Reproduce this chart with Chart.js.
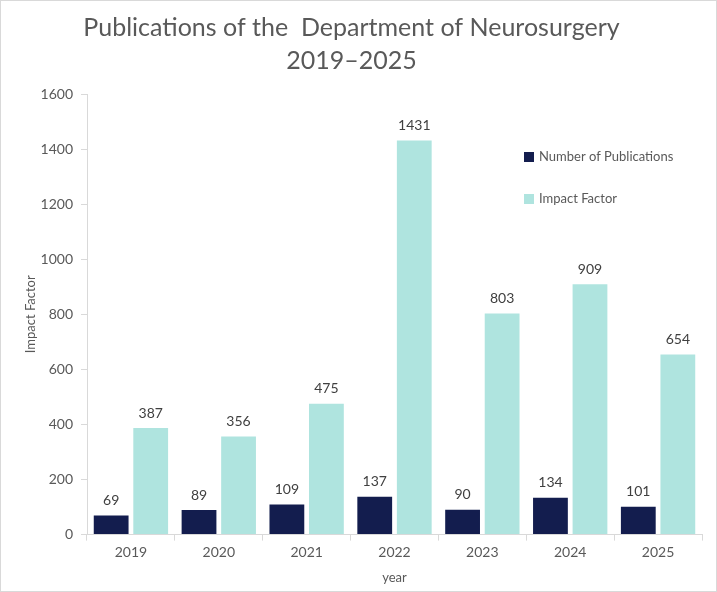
<!DOCTYPE html>
<html>
<head>
<meta charset="utf-8">
<script src="https://cdn.jsdelivr.net/npm/chart.js@4.4.1/dist/chart.umd.min.js"></script>
<style>
  html, body { margin: 0; padding: 0; background: #fff; }
  #wrap { position: relative; width: 717px; height: 592px; box-sizing: border-box; border: 1px solid #d9d9d9; }
</style>
</head>
<body>
<div id="wrap"><canvas id="pubChart"></canvas></div>
<script>
const years = ['2019', '2020', '2021', '2022', '2023', '2024', '2025'];
const publications = [69, 89, 109, 137, 90, 134, 101];
const impactFactor = [387, 356, 475, 1431, 803, 909, 654];
const yTicks = [0, 200, 400, 600, 800, 1000, 1200, 1400, 1600];

const textGrey = '#595959';
const axisGrey = '#d9d9d9';
const fontFamily = 'Lato, "Open Sans", sans-serif';

// values above every bar
const barLabels = {
  id: 'barLabels',
  afterDatasetsDraw(chart) {
    const ctx = chart.ctx;
    ctx.save();
    ctx.font = '14px ' + fontFamily;
    ctx.fillStyle = '#404040';
    ctx.textAlign = 'center';
    ctx.textBaseline = 'middle';
    chart.data.datasets.forEach((ds, i) => {
      chart.getDatasetMeta(i).data.forEach((bar, j) => {
        ctx.fillText(ds.data[j], bar.x, bar.y - 15);
      });
    });
    ctx.restore();
  }
};

// legend drawn inside the plot, on the right
const innerLegend = {
  id: 'innerLegend',
  afterDraw(chart) {
    const ctx = chart.ctx;
    ctx.save();
    ctx.font = '13px ' + fontFamily;
    ctx.textBaseline = 'middle';
    chart.data.datasets.forEach((ds, i) => {
      const y = 156 + i * 42;
      ctx.fillStyle = ds.backgroundColor;
      ctx.fillRect(523, y - 5, 10, 10);
      ctx.fillStyle = textGrey;
      ctx.fillText(ds.label, 538, y);
    });
    ctx.restore();
  }
};

const ctx = document.getElementById('pubChart').getContext('2d');
new Chart(ctx, {
  type: 'bar',
  data: {
    labels: years,
    datasets: [{
      label: 'Number of Publications',
      data: publications,
      backgroundColor: '#131d4e',
      categoryPercentage: 0.9,
      barPercentage: 0.88
    }, {
      label: 'Impact Factor',
      data: impactFactor,
      backgroundColor: '#afe4df',
      categoryPercentage: 0.9,
      barPercentage: 0.88
    }]
  },
  options: {
    responsive: true,
    maintainAspectRatio: false,
    animation: false,
    layout: { padding: { left: 0, right: 14, top: 0, bottom: 5 } },
    plugins: {
      legend: { display: false },
      tooltip: { enabled: false },
      title: {
        display: true,
        text: ['Publications of the  Department of Neurosurgery', '2019\u20132025'],
        color: textGrey,
        font: { family: fontFamily, size: 25, weight: 'normal', lineHeight: 1.32 },
        padding: { top: 10, bottom: 17 }
      }
    },
    scales: {
      x: {
        grid: { drawOnChartArea: false, drawTicks: true, tickLength: 6, color: axisGrey },
        border: { color: axisGrey },
        ticks: { color: textGrey, font: { family: fontFamily, size: 14 }, padding: 3 },
        title: { display: true, text: 'year', color: textGrey, font: { family: fontFamily, size: 13 }, padding: { top: 7, bottom: 0 } }
      },
      y: {
        min: 0,
        max: 1600,
        afterBuildTicks: (scale) => { scale.ticks = yTicks.map(v => ({ value: v })); },
        afterFit: (scale) => { scale.width = 86; },
        grid: { drawOnChartArea: false, drawTicks: true, tickLength: 6, color: axisGrey },
        border: { color: axisGrey },
        ticks: { color: textGrey, font: { family: fontFamily, size: 14 }, padding: 8, callback: (v) => String(v) },
        title: { display: true, text: 'Impact Factor', color: textGrey, font: { family: fontFamily, size: 13 }, padding: { top: 22, bottom: 0 } }
      }
    }
  },
  plugins: [barLabels, innerLegend]
});
</script>
</body>
</html>
